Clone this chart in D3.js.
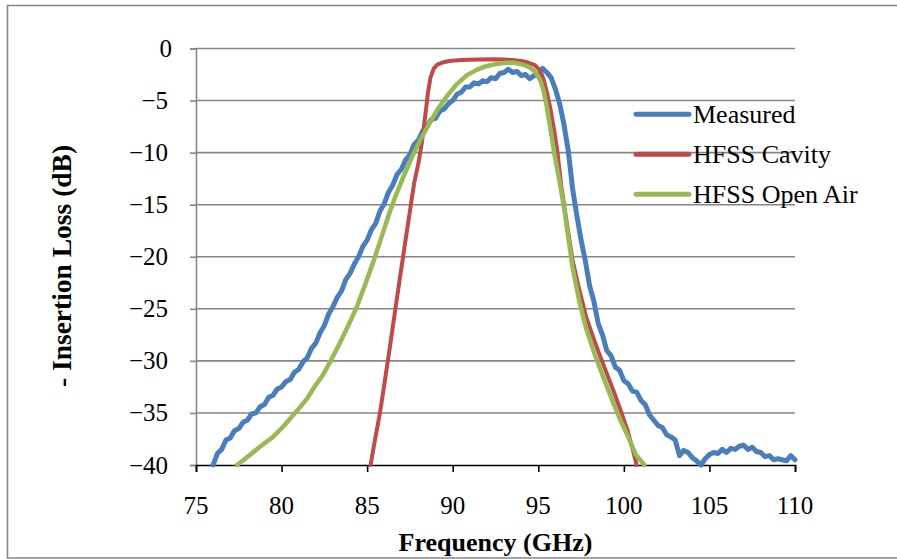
<!DOCTYPE html>
<html>
<head>
<meta charset="utf-8">
<script src="https://cdn.jsdelivr.net/npm/d3@7"></script>
<style>
  html, body { margin: 0; padding: 0; background: #fff; }
  svg { display: block; }
  text { font-family: "Liberation Serif", "Times New Roman", serif; fill: #000; }
</style>
</head>
<body>
<svg id="chart" width="897" height="559"></svg>
<script>
// Frequency sweep results, insertion loss in dB
const measuredFreq = [
  76.0, 76.25, 76.5, 76.75, 77.0, 77.25, 77.5, 77.75, 78.0, 78.25, 78.5, 78.75,
  79.0, 79.25, 79.5, 79.75, 80.0, 80.25, 80.5, 80.75, 81.0, 81.25, 81.5, 81.75,
  82.0, 82.25, 82.5, 82.75, 83.0, 83.25, 83.5, 83.75, 84.0, 84.25, 84.5, 84.75,
  85.0, 85.25, 85.5, 85.75, 86.0, 86.25, 86.5, 86.75, 87.0, 87.25, 87.5, 87.75,
  88.0, 88.25, 88.5, 88.75, 89.0, 89.25, 89.5, 89.75, 90.0, 90.25, 90.5, 90.75,
  91.0, 91.25, 91.5, 91.75, 92.0, 92.25, 92.5, 92.75, 93.0, 93.25, 93.5, 93.75,
  94.0, 94.25, 94.5, 94.75, 95.0, 95.25, 95.5, 95.75, 96.0, 96.25, 96.5, 96.75,
  97.0, 97.25, 97.5, 97.75, 98.0, 98.25, 98.5, 98.75, 99.0, 99.25, 99.5, 99.75,
  100.0, 100.25, 100.5, 100.75, 101.0, 101.25, 101.5, 101.75, 102.0, 102.25, 102.5, 102.75,
  103.0, 103.25, 103.5, 103.75, 104.0, 104.25, 104.5, 104.75, 105.0, 105.25, 105.5, 105.75,
  106.0, 106.25, 106.5, 106.75, 107.0, 107.25, 107.5, 107.75, 108.0, 108.25, 108.5, 108.75,
  109.0, 109.25, 109.5, 109.75, 110.0
];
const measuredLoss = [
  -40.0, -38.9, -38.5, -37.6, -37.4, -36.7, -36.5, -35.9, -35.7, -35.1, -35.0, -34.4,
  -34.2, -33.5, -33.3, -32.7, -32.5, -32.0, -31.8, -31.1, -30.8, -30.1, -29.7, -28.8,
  -28.3, -27.3, -26.6, -25.5, -24.8, -23.9, -23.3, -22.2, -21.6, -20.7, -20.0, -19.0,
  -18.4, -17.4, -16.8, -15.6, -14.9, -13.8, -13.1, -12.1, -11.6, -10.7, -10.2, -9.2,
  -8.8, -7.9, -7.5, -6.8, -6.7, -6.0, -5.8, -5.3, -5.0, -4.4, -4.2, -3.7,
  -3.7, -3.3, -3.4, -3.1, -3.2, -2.8, -2.9, -2.4, -2.3, -2.0, -2.3, -2.2,
  -2.6, -2.5, -2.9, -2.6, -2.6, -1.9, -2.3, -2.8, -3.9, -5.3, -7.3, -9.8,
  -13.4, -16.0, -18.4, -20.4, -22.8, -24.3, -26.4, -27.5, -29.0, -29.5, -30.6, -30.9,
  -31.9, -32.2, -32.9, -33.0, -33.8, -34.2, -35.2, -35.7, -36.2, -36.4, -37.1, -37.3,
  -37.6, -39.1, -38.6, -38.8, -39.3, -39.6, -40.0, -39.4, -39.0, -38.8, -38.9, -38.5,
  -38.8, -38.4, -38.5, -38.2, -38.1, -38.5, -38.3, -38.7, -38.8, -39.2, -39.1, -39.5,
  -39.4, -39.5, -39.6, -39.1, -39.5
];

const cavityFreq = [
  85.2, 85.5, 85.75, 86.0, 86.3, 86.6, 86.9, 87.2, 87.5, 87.75, 88.0, 88.2,
  88.4, 88.55, 88.7, 88.9, 89.1, 89.4, 89.8, 90.5, 91.5, 92.5, 93.5, 94.0,
  94.4, 94.8, 95.1, 95.3, 95.5, 95.7, 95.9, 96.1, 96.35, 96.7, 97.0, 97.4,
  97.8, 98.2, 98.6, 99.0, 99.4, 99.8, 100.2, 100.5, 100.75
];
const cavityLoss = [
  -40.0, -37.2, -35.0, -32.3, -29.0, -25.6, -22.2, -18.9, -15.6, -12.9, -11.0, -9.0,
  -6.4, -4.3, -2.8, -1.9, -1.55, -1.35, -1.2, -1.1, -1.05, -1.04, -1.1, -1.2,
  -1.35, -1.6, -2.1, -2.9, -4.2, -5.7, -7.6, -9.7, -13.3, -17.1, -20.3, -23.2,
  -25.8, -27.7, -29.5, -31.2, -32.9, -34.7, -36.6, -38.4, -40.0
];

const openAirFreq = [
  77.4, 77.8, 78.7, 79.5, 80.1, 80.9, 81.5, 82.0, 82.4, 82.9, 83.4, 83.9,
  84.4, 84.9, 85.4, 85.9, 86.3, 86.7, 87.1, 87.6, 88.1, 88.6, 89.1, 89.6,
  90.2, 90.8, 91.4, 91.95, 92.5, 93.1, 93.6, 94.1, 94.5, 94.8, 95.1, 95.3,
  95.5, 95.7, 95.95, 96.2, 96.5, 97.0, 97.4, 97.8, 98.2, 98.6, 99.0, 99.4,
  99.8, 100.2, 100.7, 101.2
];
const openAirLoss = [
  -40.0, -39.5, -38.3, -37.3, -36.3, -34.8, -33.6, -32.3, -31.4, -29.9, -28.3, -26.6,
  -24.8, -22.6, -20.3, -17.8, -15.8, -14.0, -12.4, -10.5, -8.8, -7.3, -5.9, -4.7,
  -3.5, -2.6, -2.05, -1.7, -1.5, -1.36, -1.38, -1.55, -1.8, -2.2, -3.0, -4.0,
  -5.6, -7.6, -10.2, -12.4, -15.2, -21.0, -24.3, -26.9, -28.9, -30.7, -32.4, -34.1,
  -35.7, -37.1, -39.0, -40.0
];

const xTicks = [75, 80, 85, 90, 95, 100, 105, 110];
const yTicks = [0, -5, -10, -15, -20, -25, -30, -35, -40];

const seriesNames = ["Measured", "HFSS Cavity", "HFSS Open Air"];
const seriesColors = ["#4A7EBB", "#BE4B48", "#98B954"];
const seriesWidths = [5, 4, 4.5];

const series = [
  measuredFreq.map((f, i) => [f, measuredLoss[i]]),
  cavityFreq.map((f, i) => [f, cavityLoss[i]]),
  openAirFreq.map((f, i) => [f, openAirLoss[i]])
];

const svg = d3.select("#chart");
const grid = "#868686";

// outer chart frame (open on the right edge)
svg.append("path")
  .attr("d", "M900,5.5 H7.5 V558 H900")
  .attr("fill", "none").attr("stroke", grid).attr("stroke-width", 1.6);

const x = d3.scaleLinear().domain([75, 110]).range([196, 795]);
const y = d3.scaleLinear().domain([-40, 0]).range([465, 48.5]);

// horizontal gridlines
svg.append("g").selectAll("line")
  .data(yTicks.filter(t => t !== -40))
  .join("line")
  .attr("x1", x(75)).attr("x2", x(110))
  .attr("y1", d => y(d)).attr("y2", d => y(d))
  .attr("stroke", grid).attr("stroke-width", 1.6);

// y axis (gray)
const yAxis = svg.append("g")
  .attr("transform", `translate(${x(75)},0)`)
  .call(d3.axisLeft(y).tickValues(yTicks).tickSize(6).tickFormat(""));
yAxis.select(".domain").attr("stroke", grid).attr("stroke-width", 1.6);
yAxis.selectAll(".tick line").attr("stroke", grid).attr("stroke-width", 1.6);

// y tick labels
svg.append("g").selectAll("text")
  .data(yTicks)
  .join("text")
  .attr("x", d => d === 0 ? 172 : 168)
  .attr("y", d => y(d) + 8.5)
  .attr("text-anchor", "end")
  .attr("font-size", 25)
  .text(d => d3.format("d")(d));

// x axis (black)
const xAxis = svg.append("g")
  .attr("transform", `translate(0,${y(-40)})`)
  .call(d3.axisBottom(x).tickValues(xTicks).tickSize(7).tickFormat(""));
xAxis.select(".domain").attr("stroke", "#000").attr("stroke-width", 1.6);
xAxis.selectAll(".tick line").attr("stroke", "#000").attr("stroke-width", 1.6);

svg.append("g").selectAll("text")
  .data(xTicks)
  .join("text")
  .attr("x", d => x(d))
  .attr("y", 514)
  .attr("text-anchor", "middle")
  .attr("font-size", 25)
  .text(d => d);

// series lines
const line = d3.line().x(d => x(d[0])).y(d => y(d[1])).curve(d3.curveLinear);
series.forEach((s, i) => {
  svg.append("path")
    .datum(s)
    .attr("d", line)
    .attr("fill", "none")
    .attr("stroke", seriesColors[i])
    .attr("stroke-width", seriesWidths[i])
    .attr("stroke-linejoin", "round")
    .attr("stroke-linecap", "round");
});

// legend
const legendY = [114.3, 154.3, 194.3];
seriesNames.forEach((name, i) => {
  svg.append("line")
    .attr("x1", 636).attr("x2", 689)
    .attr("y1", legendY[i]).attr("y2", legendY[i])
    .attr("stroke", seriesColors[i]).attr("stroke-width", 5)
    .attr("stroke-linecap", "round");
  svg.append("text")
    .attr("x", 693).attr("y", legendY[i] + 9)
    .attr("font-size", 26)
    .text(name);
});

// axis titles
svg.append("text")
  .attr("x", x(92.5)).attr("y", 551)
  .attr("text-anchor", "middle")
  .attr("font-size", 26).attr("font-weight", "bold")
  .text("Frequency (GHz)");

svg.append("text")
  .attr("transform", `translate(71,266) rotate(-90)`)
  .attr("text-anchor", "middle")
  .attr("font-size", 27.5).attr("font-weight", "bold")
  .text("- Insertion Loss (dB)");
</script>
</body>
</html>
